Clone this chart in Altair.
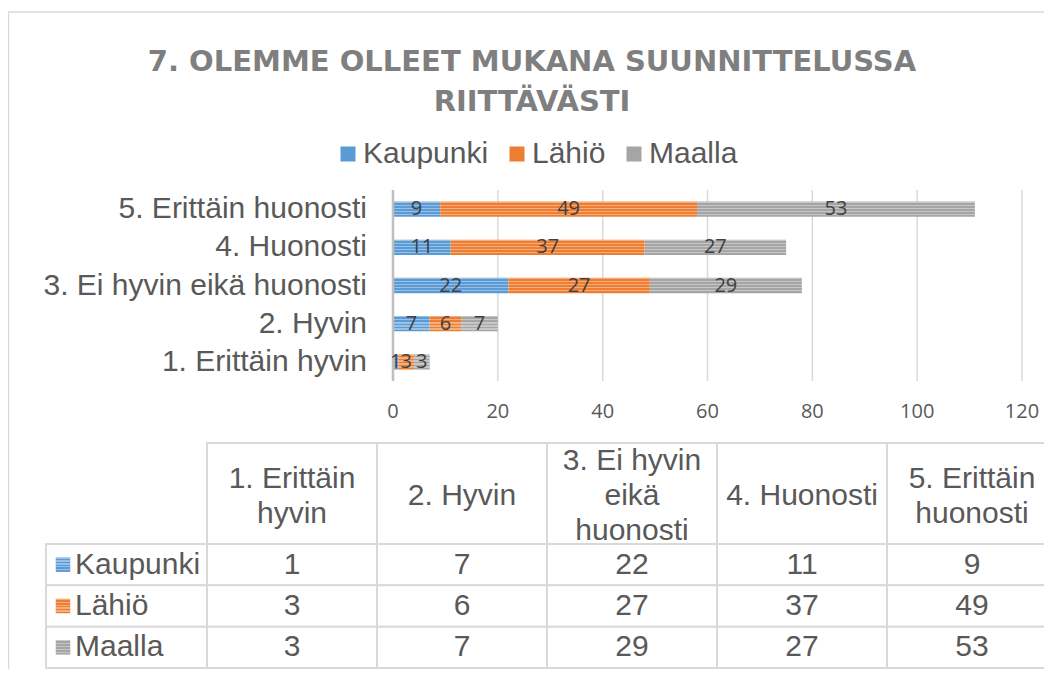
import altair as alt
import pandas as pd

# ---- data ----
categories = ["1. Erittäin hyvin", "2. Hyvin", "3. Ei hyvin eikä huonosti",
              "4. Huonosti", "5. Erittäin huonosti"]
header_labels = ["1. Erittäin\nhyvin", "2. Hyvin", "3. Ei hyvin\neikä\nhuonosti",
                 "4. Huonosti", "5. Erittäin\nhuonosti"]
series = ["Kaupunki", "Lähiö", "Maalla"]
kaupunki = [1, 7, 22, 11, 9]
lahio = [3, 6, 27, 37, 49]
maalla = [3, 7, 29, 27, 53]
x_ticks = [0, 20, 40, 60, 80, 100, 120]
colors = ["#5B9BD5", "#ED7D31", "#A5A5A5"]
title_text = "7. OLEMME OLLEET MUKANA SUUNNITTELUSSA\nRIITTÄVÄSTI"

rows = []
for s_i, (s, vals) in enumerate(zip(series, [kaupunki, lahio, maalla])):
    for c, h, v in zip(categories, header_labels, vals):
        rows.append({"cat": c, "header": h, "series": s, "order": s_i, "value": v})
df = pd.DataFrame(rows)

# ---- styling ----
GRID = "#d9d9d9"
TXT = "#595959"
LAB = "#404040"
FS = 30

stops = []
for k in range(5):
    a, m, b = k / 5, k / 5 + 0.09, (k + 1) / 5
    stops += [alt.GradientStop(offset=a, color="rgba(255,255,255,0.38)"),
              alt.GradientStop(offset=m, color="rgba(255,255,255,0.38)"),
              alt.GradientStop(offset=m, color="rgba(255,255,255,0)"),
              alt.GradientStop(offset=b, color="rgba(255,255,255,0)")]
stripes = alt.LinearGradient(gradient="linear", stops=stops, x1=0, x2=0, y1=0, y2=1)

xs = alt.Scale(domain=[0, 120], range=[385, 1014], nice=False, zero=False)
ys = alt.Scale(type="band", domain=categories[::-1], range=[182, 373],
               paddingInner=0.6, paddingOuter=0.3)
cs = alt.Scale(domain=series, range=colors)
tx = alt.Scale(type="band", domain=header_labels, range=[199, 1049],
               paddingInner=0, paddingOuter=0)
ty = alt.Scale(type="band", domain=series, range=[536, 660],
               paddingInner=0, paddingOuter=0)

legend = alt.Legend(orient="none", legendX=325, legendY=131, direction="horizontal",
                    title=None, symbolType="square", symbolSize=225,
                    symbolStrokeWidth=0, labelFont="Liberation Sans", labelFontSize=FS,
                    labelColor=TXT, labelOffset=0, columnPadding=13, labelLimit=300)

# frame
frame = alt.Chart(pd.DataFrame({"a": [0]})).mark_rect(
    fillOpacity=0, stroke=GRID, strokeWidth=1.5).encode(
    x=alt.value(0.5), x2=alt.value(1200), y=alt.value(4), y2=alt.value(800))

# title (first line sits at y, the second one lineHeight below)
title = alt.Chart(pd.DataFrame({"t": [title_text]})).mark_text(
    font="DejaVu Sans", fontWeight="bold", fontSize=29, color="#7f7f7f",
    lineBreak="\n", lineHeight=40, baseline="middle", align="center").encode(
    x=alt.value(524), y=alt.value(54), text="t:N")

# gridlines and ticks
tick_df = pd.DataFrame({"tick": x_ticks})
grid = alt.Chart(tick_df).mark_rule(color=GRID, strokeWidth=1.5).encode(
    x=alt.X("tick:Q", scale=xs, axis=None), y=alt.value(182), y2=alt.value(373))
tick_labels = alt.Chart(tick_df).mark_text(
    font="Open Sans", fontSize=20, color=TXT, baseline="middle").encode(
    x=alt.X("tick:Q", scale=xs, axis=None), y=alt.value(404), text="tick:Q")
axis_line = alt.Chart(pd.DataFrame({"tick": [0]})).mark_rule(
    color="#bfbfbf", strokeWidth=2.5).encode(
    x=alt.X("tick:Q", scale=xs, axis=None), y=alt.value(182), y2=alt.value(373))
cat_labels = alt.Chart(pd.DataFrame({"cat": categories})).mark_text(
    align="right", baseline="middle", font="Liberation Sans", fontSize=FS,
    color=TXT).encode(
    x=alt.value(359), y=alt.Y("cat:N", scale=ys, axis=None), text="cat:N")

# stacked bars
base = alt.Chart(df).transform_stack(
    stack="value", groupby=["cat"], as_=["x0", "x1"],
    sort=[alt.SortField("order", order="ascending")]
).transform_calculate(mid="(datum.x0 + datum.x1) / 2")

bars = base.mark_bar().encode(
    x=alt.X("x0:Q", scale=xs, axis=None), x2="x1:Q",
    y=alt.Y("cat:N", scale=ys, axis=None),
    color=alt.Color("series:N", scale=cs, legend=legend))
bar_stripes = base.mark_bar(fill=stripes).encode(
    x=alt.X("x0:Q", scale=xs, axis=None), x2="x1:Q",
    y=alt.Y("cat:N", scale=ys, axis=None))
bar_text = base.mark_text(font="Open Sans", fontSize=20, color=LAB,
                          baseline="middle").encode(
    x=alt.X("mid:Q", scale=xs, axis=None),
    y=alt.Y("cat:N", scale=ys, axis=None), text="value:Q")

# data table
head_df = pd.DataFrame({"header": header_labels})
head_rect = alt.Chart(head_df).mark_rect(fill="white", stroke=GRID, strokeWidth=2).encode(
    x=alt.X("header:N", scale=tx, axis=None), y=alt.value(435), y2=alt.value(536))
# first line position moves up with the number of lines so the block is centred
head_text = alt.Chart(head_df).transform_calculate(
    nl="split(datum.header, '\\n').length"
).mark_text(
    lineBreak="\n", lineHeight=35, baseline="middle", font="Liberation Sans",
    fontSize=FS, color=TXT).encode(
    x=alt.X("header:N", scale=tx, axis=None),
    y=alt.Y("nl:Q", scale=alt.Scale(domain=[1, 3], range=[488, 453], zero=False,
                                    nice=False), axis=None),
    text="header:N")
cell_rect = alt.Chart(df).mark_rect(fill="white", stroke=GRID, strokeWidth=2).encode(
    x=alt.X("header:N", scale=tx, axis=None), y=alt.Y("series:N", scale=ty, axis=None))
cell_text = alt.Chart(df).mark_text(baseline="middle", font="Liberation Sans",
                                    fontSize=FS, color=TXT).encode(
    x=alt.X("header:N", scale=tx, axis=None), y=alt.Y("series:N", scale=ty, axis=None),
    text="value:Q")
ser_df = pd.DataFrame({"series": series})
lab_rect = alt.Chart(ser_df).mark_rect(fill="white", stroke=GRID, strokeWidth=2).encode(
    x=alt.value(38), x2=alt.value(199), y=alt.Y("series:N", scale=ty, axis=None))
lab_sq = alt.Chart(ser_df).mark_square(size=210, opacity=1).encode(
    x=alt.value(55), y=alt.Y("series:N", scale=ty, axis=None),
    color=alt.Color("series:N", scale=cs))
lab_sq_str = alt.Chart(ser_df).mark_square(size=210, opacity=1, fill=stripes).encode(
    x=alt.value(55), y=alt.Y("series:N", scale=ty, axis=None))
lab_text = alt.Chart(ser_df).mark_text(align="left", baseline="middle",
                                       font="Liberation Sans", fontSize=FS,
                                       color=TXT).encode(
    x=alt.value(67), y=alt.Y("series:N", scale=ty, axis=None), text="series:N")

chart = alt.layer(
    frame, title, grid, bars, bar_stripes, axis_line, bar_text, tick_labels, cat_labels,
    head_rect, cell_rect, lab_rect, head_text, cell_text, lab_sq, lab_sq_str, lab_text
).resolve_scale(x="independent", y="independent").properties(
    width=1036, height=661, autosize=alt.AutoSizeParams(type="none"), padding=0
).configure_view(strokeWidth=0)

chart.save("out.html", embed_options={"renderer": "svg", "actions": False})
